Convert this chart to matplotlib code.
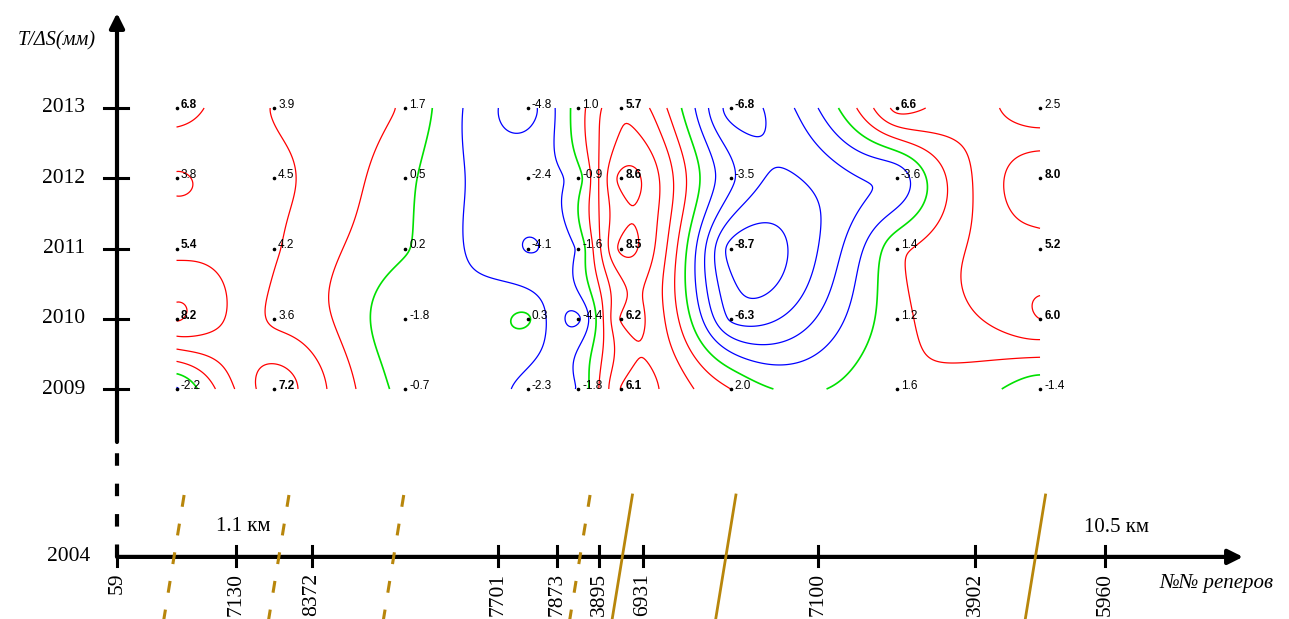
import numpy as np
import matplotlib.pyplot as plt

# --- DATA ---
# benchmark numbers along the profile and their distance (km)
stations = ['59', '7130', '8372', '7701', '7873', '3895', '6931', '7100', '3902', '5960']
station_km = [0.0, 1.265, 2.072, 4.049, 4.676, 5.122, 5.590, 7.450, 9.118, 10.5]

years = [2009, 2010, 2011, 2012, 2013]

# dS (mm) between adjacent benchmarks, rows = years (2009 -> 2013)
ds_2009 = [-2.2, 7.2, -0.7, -2.3, -1.8, 6.1, 2.0, 1.6, -1.4]
ds_2010 = [8.2, 3.6, -1.8, 0.3, -4.4, 6.2, -6.3, 1.2, 6.0]
ds_2011 = [5.4, 4.2, 0.2, -4.1, -1.6, 8.5, -8.7, 1.4, 5.2]
ds_2012 = [3.8, 4.5, 0.5, -2.4, -0.9, 8.6, -3.5, -3.6, 8.0]
ds_2013 = [6.8, 3.9, 1.7, -4.8, 1.0, 5.7, -6.8, 6.6, 2.5]

levels = [-8, -6, -4, -2, 0, 2, 4, 6, 8]

# faults crossing the profile (km at the axis), dashed = supposed
fault_km = [0.606, 1.72, 2.94, 4.92, 5.37, 6.47, 9.76]
fault_dashed = [True, True, True, True, False, False, False]

# --- LAYOUT ---
PX_KM = 94.1      # pixels per km
PX_YR = 70.25     # pixels per year
Y_BASE = 2006.61  # position of the "2004" baseline (broken axis)
W, H = 1289, 619

fig = plt.figure(figsize=(W / 100, H / 100), dpi=100)
ax = fig.add_axes([0, 0, 1, 1])
ax.set_xlim(-117 / PX_KM, (W - 117) / PX_KM)
ax.set_ylim(2009 - (H - 389) / PX_YR, 2013 + 108 / PX_YR)
ax.axis('off')

serif = 'Liberation Serif'
sans = 'Liberation Sans'

# --- GRIDDING (ordinary kriging, power variogram) ---
km = np.array(station_km)
x_mid = (km[:-1] + km[1:]) / 2
Z = np.array([ds_2009, ds_2010, ds_2011, ds_2012, ds_2013])
X, Y = np.meshgrid(x_mid, years)

power = 1.4
pts = np.column_stack([X.ravel() * PX_KM, Y.ravel() * PX_YR])
n = len(pts)
D = np.hypot(pts[:, None, 0] - pts[None, :, 0], pts[:, None, 1] - pts[None, :, 1]) ** power
A = np.zeros((n + 1, n + 1))
A[:n, :n] = D
A[:n, n] = 1
A[n, :n] = 1
coef = np.linalg.solve(A, np.append(Z.ravel(), 0.0))

xi = np.linspace(x_mid[0], x_mid[-1], 500)
yi = np.linspace(years[0], years[-1], 250)
XI, YI = np.meshgrid(xi, yi)
gx = XI.ravel() * PX_KM
gy = YI.ravel() * PX_YR
G = np.hypot(gx[:, None] - pts[None, :, 0], gy[:, None] - pts[None, :, 1]) ** power
ZI = (G @ coef[:n] + coef[n]).reshape(XI.shape)

cols = ['#0000ff' if lv < 0 else ('#00e000' if lv == 0 else '#ff0000') for lv in levels]
lws = [1.2 if lv == 0 else 0.9 for lv in levels]
ax.contour(XI, YI, ZI, levels=levels, colors=cols, linewidths=lws, linestyles='solid')

# value labels with a dot at each point
for j, yr in enumerate(years):
    for i, xm in enumerate(x_mid):
        v = Z[j, i]
        ax.plot(xm, yr, 'o', color='black', ms=1.6, zorder=5)
        ax.annotate(f'{v:.1f}', (xm, yr), xytext=(3, 0), textcoords='offset points',
                    ha='left', va='baseline', fontsize=8.5, family=sans,
                    fontweight='bold' if abs(v) >= 5 else 'normal', zorder=6)

# --- AXES ---
# vertical axis: solid part with arrow, dashed break down to baseline
y_break = 2009 - (442 - 389) / PX_YR
ax.annotate('', xy=(0, 2013 + 95 / PX_YR), xytext=(0, y_break),
            arrowprops=dict(arrowstyle='-|>', lw=3, color='black', mutation_scale=22,
                            shrinkA=0, shrinkB=0))
ax.plot([0, 0], [Y_BASE, y_break], color='black', lw=3, dashes=(3.0, 4.3),
        solid_capstyle='butt', dash_capstyle='butt')

for yr in years:
    ax.plot([-13 / PX_KM, 11 / PX_KM], [yr, yr], color='black', lw=2.2)
    ax.text(-32 / PX_KM, yr, str(yr), ha='right', va='center', fontsize=15.5, family=serif)
ax.text(-27 / PX_KM, Y_BASE, '2004', ha='right', va='center', fontsize=15.5, family=serif)

# horizontal axis with arrow
ax.annotate('', xy=(1243 / PX_KM - 117 / PX_KM, Y_BASE), xytext=(0, Y_BASE),
            arrowprops=dict(arrowstyle='-|>', lw=3, color='black', mutation_scale=22,
                            shrinkA=0, shrinkB=0))
for s, x in zip(stations, station_km):
    ax.plot([x, x], [Y_BASE - 9 / PX_YR, Y_BASE + 11 / PX_YR], color='black', lw=2.2)
    ax.text(x, Y_BASE - 16 / PX_YR, s, rotation=90, ha='center', va='top',
            fontsize=15.5, family=serif)

ax.text(station_km[1] + 0.08, Y_BASE + 30 / PX_YR, '1.1 км', ha='center', va='center',
        fontsize=15, family=serif)
ax.text(station_km[-1] + 0.12, Y_BASE + 29 / PX_YR, '10.5 км', ha='center', va='center',
        fontsize=15, family=serif)

ax.text(-60 / PX_KM, 2013 + 67 / PX_YR, 'T/ΔS(мм)', ha='center', va='center',
        fontsize=14.5, family=serif, style='italic')
ax.text(1043 / PX_KM, Y_BASE - 27 / PX_YR, '№№ реперов', ha='left', va='center',
        fontsize=15, family=serif, style='italic')

# --- FAULTS ---
slope = 0.163 * PX_YR / PX_KM  # km per year of tilt
y_top = 2009 - (495 - 389) / PX_YR
y_bot = 2009 - (640 - 389) / PX_YR
for xf, dashed in zip(fault_km, fault_dashed):
    xs = [xf + (y_top - Y_BASE) * slope, xf + (y_bot - Y_BASE) * slope]
    if dashed:
        ax.plot(xs, [y_top, y_bot], color='#b8860b', lw=2.2, dashes=(3.9, 5.6), zorder=4)
    else:
        ax.plot(xs, [y_top, y_bot], color='#b8860b', lw=2.0, zorder=4)

fig.savefig('out.png', dpi=100)
